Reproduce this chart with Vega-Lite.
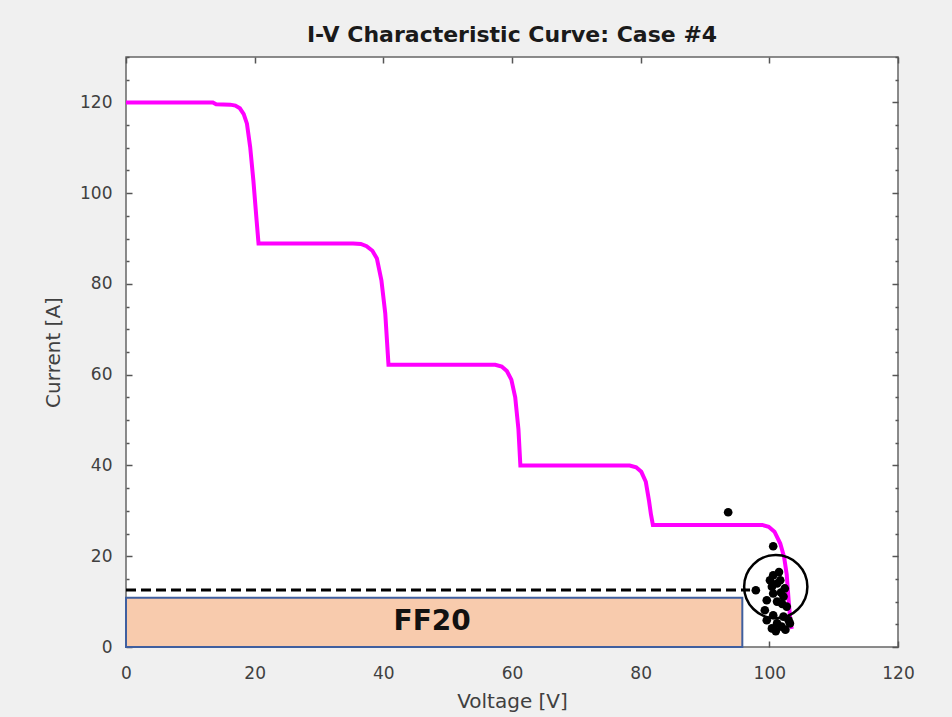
{
  "$schema": "https://vega.github.io/schema/vega-lite/v6.json",
  "width": 772,
  "height": 590,
  "autosize": "none",
  "padding": {"left": 126, "top": 57, "right": 54, "bottom": 70},
  "background": "#F0F0F0",
  "title": {"text": "I-V Characteristic Curve: Case #4", "font": "DejaVu Sans", "fontSize": 22, "fontWeight": "bold", "color": "#1a1a1a", "anchor": "middle", "baseline": "alphabetic", "offset": -8},
  "config": {
    "view": {"fill": "white", "stroke": "#666666", "strokeWidth": 1.5},
    "axis": {"labelFont": "DejaVu Sans", "labelFontSize": 17, "labelColor": "#404040", "labelFlush": false, "titleFont": "DejaVu Sans", "titleFontSize": 20, "titleFontWeight": "normal", "titleColor": "#404040", "domain": false, "grid": false, "tickColor": "#555555", "tickWidth": 1.5}
  },
  "datasets": {
    "curve": [
      {"V": 0, "I": 120}, {"V": 13.5, "I": 120}, {"V": 14.0, "I": 119.6}, {"V": 16.2, "I": 119.5},
      {"V": 17.0, "I": 119.3}, {"V": 17.7, "I": 118.7}, {"V": 18.3, "I": 117.4}, {"V": 18.8, "I": 115.3},
      {"V": 19.3, "I": 110.2}, {"V": 19.8, "I": 102.8},
      {"V": 20.3, "I": 94.0}, {"V": 20.6, "I": 88.9}, {"V": 35.3, "I": 88.9}, {"V": 36.5, "I": 88.8},
      {"V": 37.4, "I": 88.3}, {"V": 38.3, "I": 87.3},
      {"V": 39.0, "I": 85.6}, {"V": 39.7, "I": 80.8}, {"V": 40.3, "I": 73.5}, {"V": 40.8, "I": 62.2},
      {"V": 57.4, "I": 62.2}, {"V": 58.4, "I": 61.8}, {"V": 59.2, "I": 60.8}, {"V": 59.9, "I": 58.9}, {"V": 60.5, "I": 55.0},
      {"V": 61.0, "I": 48.0}, {"V": 61.3, "I": 40.0}, {"V": 78.3, "I": 40.0}, {"V": 79.3, "I": 39.6}, {"V": 80.1, "I": 38.6},
      {"V": 80.8, "I": 36.4}, {"V": 81.3, "I": 32.2}, {"V": 81.6, "I": 29.2}, {"V": 81.9, "I": 26.9}, {"V": 98.9, "I": 26.9},
      {"V": 99.9, "I": 26.5}, {"V": 100.8, "I": 25.4}, {"V": 101.7, "I": 22.8}, {"V": 102.3, "I": 19.8}, {"V": 102.7, "I": 16.0},
      {"V": 103.0, "I": 10.3}, {"V": 103.3, "I": 5.2}, {"V": 103.5, "I": 4.0}
    ],
    "dots": [
      {"V": 93.6, "I": 29.7}, {"V": 100.6, "I": 22.2}, {"V": 97.9, "I": 12.5}, {"V": 100.6, "I": 15.8},
      {"V": 101.2, "I": 14.0}, {"V": 100.4, "I": 13.3}, {"V": 101.7, "I": 14.7}, {"V": 100.6, "I": 11.8},
      {"V": 99.6, "I": 10.3}, {"V": 101.2, "I": 10.0}, {"V": 102.2, "I": 11.1}, {"V": 102.7, "I": 8.9},
      {"V": 99.3, "I": 8.1}, {"V": 100.6, "I": 7.0}, {"V": 102.2, "I": 6.7}, {"V": 99.6, "I": 5.9},
      {"V": 101.2, "I": 5.2}, {"V": 103.2, "I": 5.2}, {"V": 100.4, "I": 4.1}, {"V": 101.9, "I": 4.5},
      {"V": 103.0, "I": 5.9}, {"V": 102.4, "I": 12.9}, {"V": 100.1, "I": 14.7}, {"V": 101.5, "I": 16.5},
      {"V": 102.0, "I": 9.5}, {"V": 101.0, "I": 3.5}, {"V": 102.5, "I": 3.8}, {"V": 101.8, "I": 12.0}
    ],
    "box": [{"V0": 0, "V1": 95.8, "I0": 0, "I1": 10.85}],
    "dash": [{"V0": 0, "V1": 97, "I": 12.55}],
    "ring": [{"V": 101, "I": 13.3}],
    "label": [{"V": 47.6, "I": 5.5, "t": "FF20"}]
  },
  "layer": [
    {
      "data": {"name": "box"},
      "mark": {"type": "rect", "fill": "#F8CBAD", "stroke": "#3F5F9F", "strokeWidth": 2},
      "encoding": {
        "x": {"field": "V0", "type": "quantitative", "scale": {"domain": [0, 120], "nice": false}, "axis": {"orient": "bottom", "values": [0, 20, 40, 60, 80, 100, 120], "tickSize": -6, "labelPadding": 24, "title": "Voltage [V]", "titlePadding": 10}},
        "x2": {"field": "V1"},
        "y": {"field": "I0", "type": "quantitative", "scale": {"domain": [0, 130], "nice": false}, "axis": {"orient": "left", "values": [0, 5, 10, 15, 20, 25, 30, 35, 40, 45, 50, 55, 60, 65, 70, 75, 80, 85, 90, 95, 100, 105, 110, 115, 120, 125, 130], "labelExpr": "datum.value % 20 === 0 ? datum.label : ''", "tickSize": {"condition": {"test": "datum.value % 20 === 0", "value": -6}, "value": -3}, "labelPadding": 20, "title": "Current [A]", "titlePadding": 16}},
        "y2": {"field": "I1"}
      }
    },
    {
      "data": {"name": "dash"},
      "mark": {"type": "rule", "color": "black", "strokeWidth": 3, "strokeDash": [10, 5]},
      "encoding": {
        "x": {"field": "V0", "type": "quantitative", "axis": null},
        "x2": {"field": "V1"},
        "y": {"field": "I", "type": "quantitative", "axis": null}
      }
    },
    {
      "data": {"name": "curve"},
      "mark": {"type": "line", "color": "#FF00FF", "strokeWidth": 4},
      "encoding": {
        "x": {"field": "V", "type": "quantitative", "axis": {"orient": "top", "values": [0, 20, 40, 60, 80, 100, 120], "tickSize": -6, "labels": false, "title": null}},
        "y": {"field": "I", "type": "quantitative", "axis": {"orient": "right", "values": [0, 5, 10, 15, 20, 25, 30, 35, 40, 45, 50, 55, 60, 65, 70, 75, 80, 85, 90, 95, 100, 105, 110, 115, 120, 125, 130], "tickSize": {"condition": {"test": "datum.value % 20 === 0", "value": -6}, "value": -3}, "labels": false, "title": null}},
        "order": {"field": "V", "type": "quantitative"}
      }
    },
    {
      "data": {"name": "dots"},
      "mark": {"type": "point", "shape": "circle", "filled": true, "color": "black", "opacity": 1, "size": 75},
      "encoding": {
        "x": {"field": "V", "type": "quantitative", "axis": null},
        "y": {"field": "I", "type": "quantitative", "axis": null}
      }
    },
    {
      "data": {"name": "ring"},
      "mark": {"type": "point", "shape": "circle", "filled": false, "stroke": "black", "strokeWidth": 2.5, "opacity": 1, "size": 4000},
      "encoding": {
        "x": {"field": "V", "type": "quantitative", "axis": null},
        "y": {"field": "I", "type": "quantitative", "axis": null}
      }
    },
    {
      "data": {"name": "label"},
      "mark": {"type": "text", "font": "DejaVu Sans", "fontWeight": "bold", "fontSize": 28, "color": "#111111", "align": "center", "baseline": "middle"},
      "encoding": {
        "x": {"field": "V", "type": "quantitative", "axis": null},
        "y": {"field": "I", "type": "quantitative", "axis": null},
        "text": {"field": "t"}
      }
    }
  ]
}
